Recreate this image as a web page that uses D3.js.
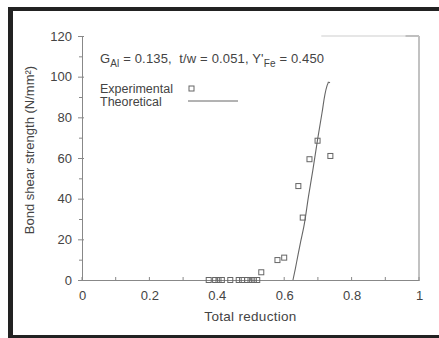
<!DOCTYPE html>
<html>
<head>
<meta charset="utf-8">
<script src="https://cdn.jsdelivr.net/npm/d3@7"></script>
<style>
  body { margin: 0; background: #fff; }
  text { font-family: "Liberation Sans", Arial, sans-serif; fill: #444; }
</style>
</head>
<body>
<div id="chart"></div>
<script>
// experimental points (total reduction, bond shear strength)
var expX = [0.376, 0.395, 0.405, 0.415, 0.44, 0.465, 0.475, 0.49, 0.50, 0.51, 0.52,
            0.532, 0.580, 0.600, 0.642, 0.655, 0.675, 0.699, 0.737];
var expY = [0, 0, 0, 0, 0, 0, 0, 0, 0, 0, 0,
            3.8, 9.8, 11, 46.2, 30.7, 59.4, 68.5, 61];

// theoretical curve
var theoX = [0.626, 0.633, 0.640, 0.649, 0.658, 0.672, 0.685, 0.699, 0.712, 0.727, 0.731, 0.736];
var theoY = [0, 5.5, 11.5, 19, 26, 41, 54, 69, 82, 95.5, 97.5, 97];

var xTicks = [0, 0.2, 0.4, 0.6, 0.8, 1];
var xMinor = [0.1, 0.3, 0.5, 0.7, 0.9];
var yTicks = [0, 20, 40, 60, 80, 100, 120];
var yMinor = [10, 30, 50, 70, 90, 110];

var W = 439, H = 338;
var margin = {top: 36, right: 20, bottom: 58, left: 82};

var svg = d3.select("#chart").append("svg")
    .attr("width", W)
    .attr("height", H);

// dark scan frame
svg.append("rect").attr("x", 8).attr("y", 7).attr("width", W - 8).attr("height", 4).attr("fill", "#222");
svg.append("rect").attr("x", 8).attr("y", 7).attr("width", 5).attr("height", H - 7).attr("fill", "#222");
svg.append("rect").attr("x", 8).attr("y", 335).attr("width", W - 8).attr("height", 3).attr("fill", "#222");

var x = d3.scaleLinear().domain([0, 1]).range([margin.left, 419]);
var y = d3.scaleLinear().domain([0, 120]).range([280, margin.top]);

var axisColor = "#888";
var font = "'Liberation Sans', Arial, sans-serif";

// y axis
var yAxis = svg.append("g")
    .attr("transform", "translate(" + x(0) + ",0)")
    .call(d3.axisLeft(y).tickValues(yTicks).tickSize(4).tickPadding(6));
yAxis.select(".domain").attr("stroke", axisColor);
yAxis.selectAll(".tick line").attr("stroke", axisColor).attr("x2", -4).attr("x1", 2);
yAxis.selectAll("text").style("font-size", "13px").attr("fill", "#444").style("font-family", font);

var yMin = svg.append("g")
    .attr("transform", "translate(" + x(0) + ",0)")
    .call(d3.axisLeft(y).tickValues(yMinor).tickSize(3).tickFormat(""));
yMin.select(".domain").remove();
yMin.selectAll(".tick line").attr("stroke", axisColor);

// x axis
var xAxis = svg.append("g")
    .attr("transform", "translate(0," + y(0) + ")")
    .call(d3.axisBottom(x).tickValues(xTicks).tickSize(0).tickPadding(11)
        .tickFormat(function(d) { return d3.format("")(d); }));
xAxis.select(".domain").attr("stroke", axisColor);
xAxis.selectAll("text").style("font-size", "13px").attr("fill", "#444").style("font-family", font);

svg.append("g").selectAll("line")
    .data(xTicks.concat(xMinor))
    .enter().append("line")
    .attr("x1", function(d) { return x(d); })
    .attr("x2", function(d) { return x(d); })
    .attr("y1", y(0) - 3)
    .attr("y2", y(0) + 1)
    .attr("stroke", axisColor);

// right border
svg.append("line")
    .attr("x1", x(1)).attr("x2", x(1))
    .attr("y1", y(0)).attr("y2", y(120))
    .attr("stroke", "#999").attr("stroke-width", 1.2);
// faint top border (partly lost in the scan)
svg.append("line")
    .attr("x1", x(0.71)).attr("x2", x(1))
    .attr("y1", y(120)).attr("y2", y(120))
    .attr("stroke", "#e6e6e6").attr("stroke-width", 2);
svg.append("line")
    .attr("x1", x(0.96)).attr("x2", x(1))
    .attr("y1", y(120)).attr("y2", y(120))
    .attr("stroke", "#999");

// axis titles
svg.append("text")
    .attr("x", (x(0) + x(1)) / 2)
    .attr("y", 321)
    .attr("text-anchor", "middle")
    .style("font-size", "13.5px")
    .style("letter-spacing", "0.3px")
    .text("Total reduction");

svg.append("text")
    .attr("transform", "translate(34," + 150 + ") rotate(-90)")
    .attr("text-anchor", "middle")
    .style("font-size", "13px")
    .text("Bond shear strength (N/mm²)");

// annotation
var ann = svg.append("text")
    .attr("x", 100)
    .attr("y", 63)
    .style("font-size", "13px")
    .style("white-space", "pre")
    .style("letter-spacing", "0.15px");
ann.append("tspan").text("G");
ann.append("tspan").attr("dy", 4).style("font-size", "10px").text("Al");
ann.append("tspan").attr("dy", -4).text(" = 0.135,  t/w = 0.051, Y'");
ann.append("tspan").attr("dy", 4).style("font-size", "10px").text("Fe");
ann.append("tspan").attr("dy", -4).text(" = 0.450");

// legend
svg.append("text").attr("x", 100).attr("y", 93).style("font-size", "12.5px").text("Experimental");
svg.append("rect").attr("x", 189).attr("y", 86).attr("width", 5).attr("height", 5)
    .attr("fill", "none").attr("stroke", "#666").attr("stroke-width", 1);
svg.append("text").attr("x", 100).attr("y", 106).style("font-size", "12.5px").text("Theoretical");
svg.append("line").attr("x1", 188).attr("x2", 238).attr("y1", 101).attr("y2", 101)
    .attr("stroke", "#666").attr("stroke-width", 1);

// theoretical curve
var line = d3.line()
    .x(function(d) { return x(d[0]); })
    .y(function(d) { return y(d[1]); })
    .curve(d3.curveMonotoneY);
svg.append("path")
    .datum(d3.zip(theoX, theoY))
    .attr("d", line)
    .attr("fill", "none")
    .attr("stroke", "#666")
    .attr("stroke-width", 1.1);

// experimental squares
svg.append("g").selectAll("rect")
    .data(d3.zip(expX, expY))
    .enter().append("rect")
    .attr("x", function(d) { return x(d[0]) - 2.5; })
    .attr("y", function(d) { return y(d[1]) - 2.5; })
    .attr("width", 5)
    .attr("height", 5)
    .attr("fill", "none")
    .attr("stroke", "#666")
    .attr("stroke-width", 1);
</script>
</body>
</html>
